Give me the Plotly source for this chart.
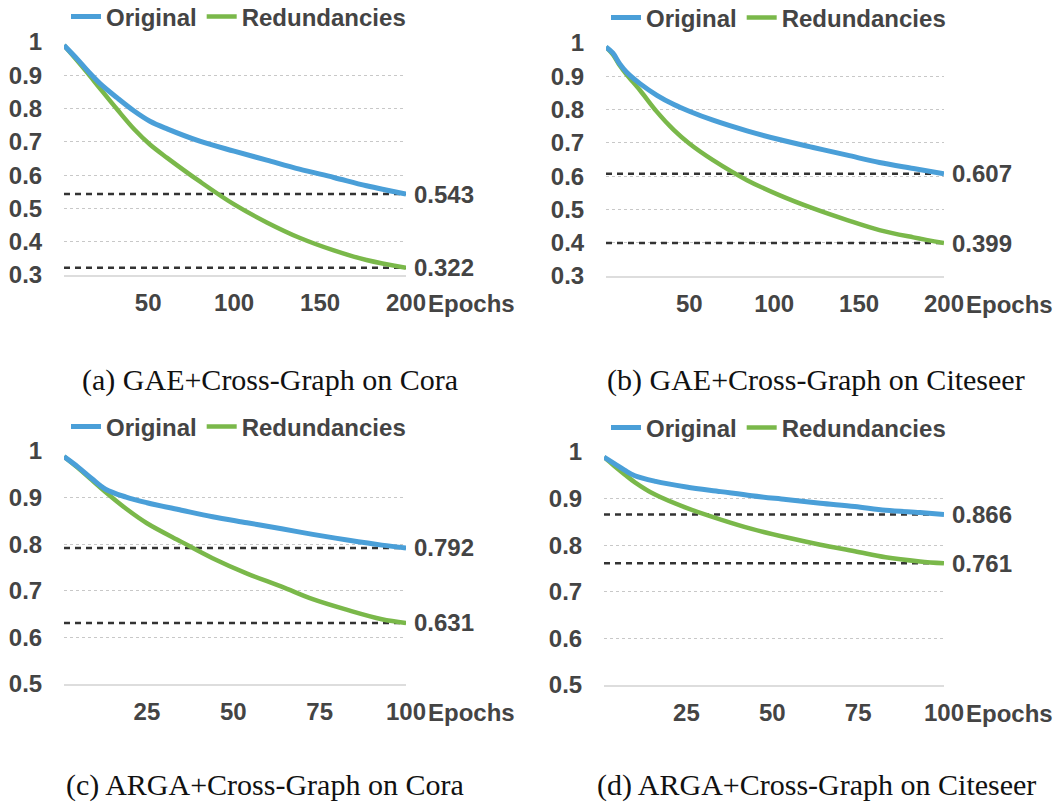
import plotly.graph_objects as go

W, H = 1063, 805

# ---------- data ----------
a_epochs = [1, 9, 15, 22, 32, 42, 51, 61, 80, 100, 119, 138, 158, 177, 200]
a_original = [0.990, 0.947, 0.912, 0.875, 0.832, 0.792, 0.762, 0.739, 0.702, 0.672, 0.645, 0.618, 0.593, 0.568, 0.543]
a_redund = [0.990, 0.942, 0.905, 0.860, 0.797, 0.737, 0.692, 0.652, 0.581, 0.512, 0.458, 0.412, 0.374, 0.345, 0.322]

b_epochs = [1, 5, 9, 13, 21, 31, 41, 50, 64, 84, 103, 123, 143, 162, 182, 200]
b_original = [0.988, 0.970, 0.938, 0.913, 0.878, 0.843, 0.815, 0.795, 0.768, 0.736, 0.710, 0.686, 0.663, 0.641, 0.623, 0.607]
b_redund = [0.988, 0.966, 0.933, 0.906, 0.858, 0.793, 0.738, 0.698, 0.648, 0.588, 0.543, 0.503, 0.468, 0.438, 0.416, 0.399]

c_epochs = [1, 5, 9, 13, 19, 25, 35, 44, 54, 64, 73, 83, 93, 100]
c_original = [0.988, 0.966, 0.941, 0.918, 0.901, 0.889, 0.873, 0.859, 0.846, 0.833, 0.821, 0.809, 0.798, 0.792]
c_redund = [0.988, 0.964, 0.938, 0.912, 0.876, 0.845, 0.805, 0.770, 0.737, 0.709, 0.682, 0.659, 0.639, 0.631]

d_epochs = [1, 4, 7, 10, 16, 25, 35, 44, 54, 64, 74, 83, 93, 100]
d_original = [0.989, 0.975, 0.961, 0.949, 0.937, 0.925, 0.915, 0.906, 0.898, 0.890, 0.883, 0.875, 0.870, 0.866]
d_redund = [0.989, 0.970, 0.952, 0.935, 0.908, 0.880, 0.855, 0.835, 0.817, 0.801, 0.787, 0.774, 0.765, 0.761]

series_names = ["Original", "Redundancies"]
captions = ["(a) GAE+Cross-Graph on Cora", "(b) GAE+Cross-Graph on Citeseer",
            "(c) ARGA+Cross-Graph on Cora", "(d) ARGA+Cross-Graph on Citeseer"]
x_ticks_200 = [50, 100, 150, 200]
x_ticks_100 = [25, 50, 75, 100]
y_ticks_top = [0.3, 0.4, 0.5, 0.6, 0.7, 0.8, 0.9, 1.0]
y_ticks_bot = [0.5, 0.6, 0.7, 0.8, 0.9, 1.0]
y_labels_top = ["0.3", "0.4", "0.5", "0.6", "0.7", "0.8", "0.9", "1"]
y_labels_bot = ["0.5", "0.6", "0.7", "0.8", "0.9", "1"]

BLUE = "#4a9fd8"
GREEN = "#7ab84a"
TXT = "#444444"
FONT = "Liberation Sans"
FS = 24

panels = [
    dict(ep=a_epochs, o=a_original, r=a_redund, xr=[1, 200], xt=x_ticks_200,
         yr=[0.3, 1.0], yt=y_ticks_top, yl=y_labels_top,
         px=(64, 406), py=(42, 275), leg=(66, 17), cap=(270, 380)),
    dict(ep=b_epochs, o=b_original, r=b_redund, xr=[1, 200], xt=x_ticks_200,
         yr=[0.3, 1.0], yt=y_ticks_top, yl=y_labels_top,
         px=(606, 944), py=(43, 276), leg=(606, 18), cap=(816, 380)),
    dict(ep=c_epochs, o=c_original, r=c_redund, xr=[1, 100], xt=x_ticks_100,
         yr=[0.5, 1.0], yt=y_ticks_bot, yl=y_labels_bot,
         px=(64, 406), py=(451, 684), leg=(66, 427), cap=(265, 785)),
    dict(ep=d_epochs, o=d_original, r=d_redund, xr=[1, 100], xt=x_ticks_100,
         yr=[0.5, 1.0], yt=y_ticks_bot, yl=y_labels_bot,
         px=(604, 944), py=(452, 685), leg=(606, 428), cap=(816, 785)),
]

fig = go.Figure()
layout = dict(width=W, height=H, margin=dict(l=0, r=0, t=0, b=0, autoexpand=False),
              paper_bgcolor="white", plot_bgcolor="white",
              font=dict(family=FONT, color=TXT), showlegend=True)
annotations = []
bold = dict(size=FS, family=FONT, color=TXT, weight="bold")

for i, p in enumerate(panels):
    n = "" if i == 0 else str(i + 1)
    xa, ya = "x" + n, "y" + n
    lg = "legend" + n
    for val in (p["o"][-1], p["r"][-1]):
        fig.add_trace(go.Scatter(x=[p["ep"][0], p["ep"][-1]], y=[val, val], mode="lines",
                                 line=dict(color="#333333", width=2.5, dash="6px,5px"),
                                 showlegend=False, hoverinfo="skip", xaxis=xa, yaxis=ya))
    fig.add_trace(go.Scatter(x=p["ep"], y=p["r"], mode="lines", name=series_names[1],
                             line=dict(color=GREEN, width=4.5, shape="spline", smoothing=1.0),
                             xaxis=xa, yaxis=ya, legend=lg, legendrank=2))
    fig.add_trace(go.Scatter(x=p["ep"], y=p["o"], mode="lines", name=series_names[0],
                             line=dict(color=BLUE, width=5, shape="spline", smoothing=1.0),
                             xaxis=xa, yaxis=ya, legend=lg, legendrank=1))

    x0, x1 = p["px"]
    y0, y1 = p["py"]
    layout["xaxis" + n] = dict(domain=[x0 / W, x1 / W], range=p["xr"], tickvals=p["xt"],
                               showgrid=False, zeroline=False, showline=True,
                               linecolor="#dddddd", linewidth=2,
                               ticks="outside", ticklen=5, tickcolor="rgba(0,0,0,0)",
                               tickfont=bold, anchor=ya, fixedrange=True)
    layout["yaxis" + n] = dict(domain=[1 - y1 / H, 1 - y0 / H], range=p["yr"],
                               tickvals=p["yt"], ticktext=p["yl"],
                               showgrid=True, gridcolor="#c8c8c8", griddash="dot", gridwidth=1,
                               zeroline=False, showline=False,
                               ticks="outside", ticklen=16, tickcolor="rgba(0,0,0,0)",
                               tickfont=bold, anchor=xa, fixedrange=True)
    lx, ly = p["leg"]
    layout[lg] = dict(orientation="h", x=lx / W, y=1 - ly / H,
                      xanchor="left", yanchor="middle",
                      font=dict(size=FS, family=FONT, color=TXT, weight="bold"),
                      bgcolor="rgba(0,0,0,0)", traceorder="normal", tracegroupgap=0)
    for val in (p["o"][-1], p["r"][-1]):
        annotations.append(dict(x=p["ep"][-1], y=val, xref=xa, yref=ya, text=f"{val:.3f}",
                                showarrow=False, xanchor="left", yanchor="middle", xshift=6,
                                font=bold))
    annotations.append(dict(x=1.0, xref=xa + " domain", y=0, yref=ya + " domain",
                            text="Epochs", showarrow=False, xanchor="left", yanchor="middle",
                            xshift=20, yshift=-28, font=bold))
    cx, cy = p["cap"]
    annotations.append(dict(x=cx / W, y=1 - cy / H, xref="paper", yref="paper", text=captions[i],
                            showarrow=False, xanchor="center", yanchor="middle",
                            font=dict(size=30, family="Liberation Serif, serif", color="#111111")))

layout["annotations"] = annotations
fig.update_layout(**layout)
fig.write_html("out.html")
